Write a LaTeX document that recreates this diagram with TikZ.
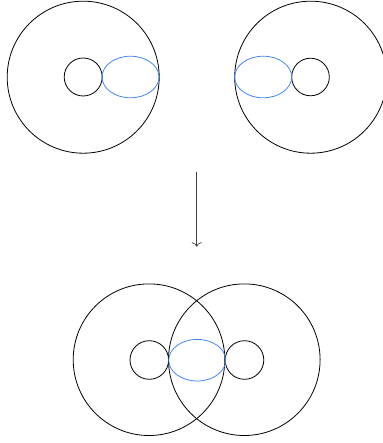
\documentclass[tikz,border=0pt]{standalone}
\usetikzlibrary{arrows.meta}
\definecolor{cutblue}{RGB}{66,135,245}
\tikzset{
  ring/.style={draw=black, line width=0.8pt},
  cut/.style={draw=cutblue, line width=0.8pt},
  maparrow/.style={draw=black!75, line width=0.7pt, -{To[length=4.5pt,width=10pt]}}
}
\begin{document}
\begin{tikzpicture}[x=1pt,y=-1pt]
\useasboundingbox (0,0) rectangle (382,443);
% top left
\draw[ring] (83.2,77.2) circle (76);
\draw[ring] (83.2,77) circle (19);
\draw[cut] (130.5,77) ellipse (28.5 and 20.8);
% top right
\draw[ring] (310.7,77.2) circle (76);
\draw[ring] (310.5,77) circle (18.8);
\draw[cut] (263.2,77) ellipse (28.5 and 20.8);
% arrow
\coordinate (arrowtop) at (196.7,171.7);
\coordinate (arrowbot) at (196.7,246.7);
\draw[maparrow] (arrowtop) -- (arrowbot);
% bottom
\draw[ring] (149,359.7) circle (75.8);
\draw[ring] (244.3,359.7) circle (75.8);
\draw[ring] (149.3,360) circle (19.3);
\draw[ring] (244.5,360) circle (19.3);
\draw[cut] (197.2,360.2) ellipse (28.5 and 20.8);
\end{tikzpicture}
\end{document}
